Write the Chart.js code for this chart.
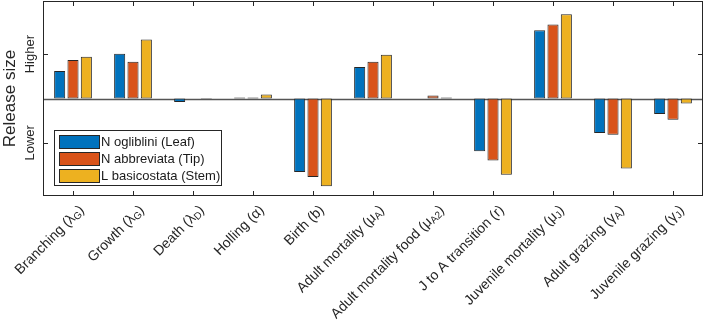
<!DOCTYPE html>
<html>
<head>
<meta charset="utf-8">
<script src="https://cdn.jsdelivr.net/npm/chart.js@4"></script>
<style>
  html, body { margin: 0; padding: 0; background: #fff; }
  #wrap { width: 706px; height: 323px; }
</style>
</head>
<body>
<div id="wrap"><canvas id="releaseChart" width="706" height="323"></canvas></div>
<script>
// parameter names, "_" marks the start of a subscript
const categories = [
  'Branching (λ_G)', 'Growth (λ_G)', 'Death (λ_D)', 'Holling (α)', 'Birth (b)',
  'Adult mortality (μ_A)', 'Adult mortality food (μ_A2)', 'J to A transition (r)',
  'Juvenile mortality (μ_J)', 'Adult grazing (γ_A)', 'Juvenile grazing (γ_J)'
];
const seriesNames = ['N ogliblini (Leaf)', 'N abbreviata (Tip)', 'L basicostata (Stem)'];
const leafValues = [0.62, 1.01, -0.08, 0.02, -1.66, 0.71, 0, -1.19, 1.54, -0.78, -0.35];
const tipValues  = [0.87, 0.83, 0, 0.02, -1.77, 0.83, 0.07, -1.40, 1.67, -0.82, -0.48];
const stemValues = [0.94, 1.33, 0.01, 0.09, -1.98, 0.99, 0.02, -1.72, 1.90, -1.58, -0.11];
const yTickValues = [1, -1];
const yTickLabels = ['Higher', 'Lower'];

const colors = ['#0072BD', '#D95319', '#EDB120'];
const edge = '#262626';
const font = "'Liberation Sans', Arial, sans-serif";

const axesPlugin = {
  id: 'axesPlugin',
  beforeDatasetsDraw(chart) {
    const ctx = chart.ctx, a = chart.chartArea, y0 = chart.scales.y.getPixelForValue(0);
    ctx.save();
    ctx.strokeStyle = '#555';
    ctx.lineWidth = 1.4;
    ctx.beginPath();
    ctx.moveTo(a.left, Math.round(y0) + 0.5);
    ctx.lineTo(a.right, Math.round(y0) + 0.5);
    ctx.stroke();
    ctx.restore();
  },
  afterDraw(chart) {
    const ctx = chart.ctx, a = chart.chartArea;
    const xs = chart.scales.x, ys = chart.scales.y;
    ctx.save();
    ctx.strokeStyle = edge;
    ctx.lineWidth = 1;
    ctx.strokeRect(a.left + 0.5, a.top + 0.5, a.right - a.left - 1, a.bottom - a.top - 1);

    // inward ticks
    ctx.beginPath();
    categories.forEach((c, i) => {
      const x = Math.round(xs.getPixelForValue(i)) + 0.5;
      ctx.moveTo(x, a.bottom); ctx.lineTo(x, a.bottom - 5);
      ctx.moveTo(x, a.top); ctx.lineTo(x, a.top + 5);
    });
    yTickValues.forEach(v => {
      const y = Math.round(ys.getPixelForValue(v)) + 0.5;
      ctx.moveTo(a.left, y); ctx.lineTo(a.left + 5, y);
      ctx.moveTo(a.right, y); ctx.lineTo(a.right - 5, y);
    });
    ctx.stroke();

    // y tick labels and title
    ctx.fillStyle = '#262626';
    ctx.textAlign = 'center';
    ctx.textBaseline = 'middle';
    yTickValues.forEach((v, i) => {
      ctx.save();
      ctx.translate(30, ys.getPixelForValue(v));
      ctx.rotate(-Math.PI / 2);
      ctx.font = '13px ' + font;
      ctx.fillText(yTickLabels[i], 0, 0);
      ctx.restore();
    });
    ctx.save();
    ctx.translate(10, ys.getPixelForValue(0));
    ctx.rotate(-Math.PI / 2);
    ctx.font = '17px ' + font;
    ctx.fillText('Release size', 0, 0);
    ctx.restore();

    // rotated category labels with subscripts
    ctx.textAlign = 'left';
    categories.forEach((label, i) => {
      const k = label.indexOf('_');
      let parts;
      if (k < 0) parts = [[label, 0]];
      else {
        const end = label.indexOf(')', k);
        parts = [[label.slice(0, k), 0], [label.slice(k + 1, end), 1], [label.slice(end), 0]];
      }
      let total = 0;
      parts.forEach(p => {
        ctx.font = (p[1] ? '10px ' : '14px ') + font;
        p.w = ctx.measureText(p[0]).width;
        total += p.w;
      });
      ctx.save();
      ctx.translate(xs.getPixelForValue(i) + 9, a.bottom + 12);
      ctx.rotate(-Math.PI / 4);
      let x = -total;
      parts.forEach(p => {
        ctx.font = (p[1] ? '10px ' : '14px ') + font;
        ctx.fillText(p[0], x, p[1] ? 3 : 0);
        x += p.w;
      });
      ctx.restore();
    });

    // legend box
    const lx = 54, ly = 130, lw = 167, lh = 55;
    ctx.fillStyle = '#fff';
    ctx.fillRect(lx, ly, lw, lh);
    ctx.strokeStyle = edge;
    ctx.strokeRect(lx + 0.5, ly + 0.5, lw, lh);
    chart.data.datasets.forEach((ds, i) => {
      const cy = ly + 11 + i * 17;
      ctx.fillStyle = ds.backgroundColor;
      ctx.fillRect(59, cy - 6, 40, 13);
      ctx.strokeStyle = edge;
      ctx.strokeRect(59.5, cy - 5.5, 40, 13);
      ctx.fillStyle = '#1a1a1a';
      ctx.font = '13px ' + font;
      ctx.textBaseline = 'middle';
      ctx.fillText(ds.label, 101, cy + 1);
    });
    ctx.restore();
  }
};

const seriesValues = [leafValues, tipValues, stemValues];
new Chart(document.getElementById('releaseChart'), {
  type: 'bar',
  data: {
    labels: categories,
    datasets: seriesValues.map((vals, i) => ({
      label: seriesNames[i],
      data: vals,
      backgroundColor: colors[i],
      borderColor: edge,
      borderWidth: 1,
      borderSkipped: false,
      categoryPercentage: 0.667,
      barPercentage: 0.83
    }))
  },
  options: {
    responsive: false,
    animation: false,
    layout: { padding: { left: 43, top: 1, right: 3, bottom: 127 } },
    plugins: { legend: { display: false }, tooltip: { enabled: false } },
    scales: {
      x: { display: false },
      y: { display: false, min: -2.2, max: 2.2 }
    }
  },
  plugins: [axesPlugin]
});
</script>
</body>
</html>
